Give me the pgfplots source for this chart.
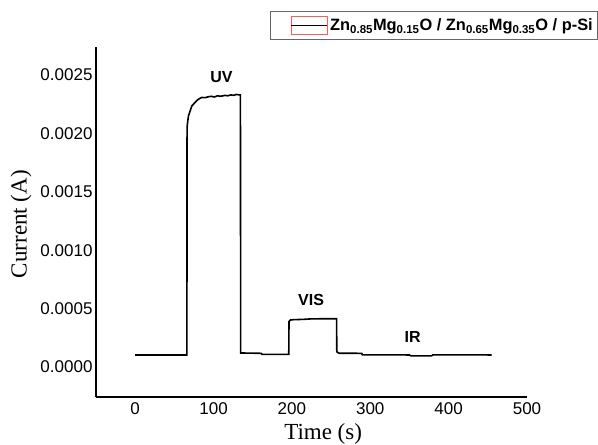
\documentclass[border=0pt]{standalone}
\usepackage{fontspec}
\setmainfont{Liberation Serif}
\newfontfamily\arial{Liberation Sans}
\usepackage{pgfplots}
\pgfplotsset{compat=1.18}
\begin{document}
\begin{tikzpicture}
\useasboundingbox (-96pt,-48pt) rectangle (502pt,397pt);
\begin{axis}[
  scale only axis, width=431pt, height=350pt,
  xmin=-50, xmax=500, ymin=-0.000257, ymax=0.00274,
  axis lines=left, axis line style={-, line width=1.4pt},
  xtick={0,100,...,500},
  ytick={0,0.0005,0.001,0.0015,0.002,0.0025},
  scaled y ticks=false,
  yticklabel style={/pgf/number format/fixed, /pgf/number format/fixed zerofill, /pgf/number format/precision=4},
  /pgf/number format/assume math mode=true,
  ticklabel style={font=\arial\fontsize{17}{18}\selectfont},
  major tick length=0pt,
  xticklabel style={yshift=-2pt},
  xlabel={Time (s)},
  ylabel={Current (A)},
  label style={font=\fontsize{23}{24}\selectfont},
  xlabel style={at={(axis description cs:0.527,-0.106)}, anchor=center},
  ylabel style={at={(axis description cs:-0.174,0.494)}, anchor=center},
  legend style={at={(axis description cs:0.4037,1.103)}, anchor=north west,
    draw=gray!80!black, line width=1.2pt, font=\arial\fontsize{16.4}{17}\selectfont\bfseries,
    inner xsep=3pt, inner ysep=4.5pt, row sep=0pt},
  legend image code/.code={
    \path (-2pt,0pt);
    \draw[red!65, line width=0.7pt] (15pt,-9pt) rectangle (51pt,9pt);
    \draw[black, line width=1.5pt] (15pt,0pt) -- (51pt,0pt);},
  clip=false,
]
\addplot[black, line width=1.6pt] coordinates {
(0,0.000103) (66,0.000103) (66.2,0.00205) (67,0.0021) (68,0.00215) (70,0.00219) (72.3,0.002235) (75,0.002255) (78.7,0.002282) (82,0.002298) (85,0.002308) (89,0.002306) (93.5,0.002314) (97,0.002318) (101,0.002312) (105,0.002322) (109,0.002318) (114.8,0.002326) (118,0.002322) (122,0.00233) (126,0.002326) (129,0.002334) (131.8,0.002331) (134.3,0.00233) (134.6,0.00012) (161,0.000117) (162,0.000108) (196,0.000108) (196.3,0.00039) (198,0.000402) (202,0.000405) (215,0.000408) (225,0.000412) (240,0.000413) (257,0.000413) (257.3,0.00013) (260,0.000118) (289,0.000117) (290,0.000104) (350,0.000103) (352,0.000095) (378,0.000095) (380,0.000104) (455,0.000103)
};
\addlegendentry{Zn\textsubscript{0.85}Mg\textsubscript{0.15}O / Zn\textsubscript{0.65}Mg\textsubscript{0.35}O / p-Si}
\node[font=\arial\fontsize{16}{17}\selectfont\bfseries] at (axis cs:110,0.00248) {UV};
\node[font=\arial\fontsize{16}{17}\selectfont\bfseries] at (axis cs:224.5,0.000574) {VIS};
\node[font=\arial\fontsize{16}{17}\selectfont\bfseries] at (axis cs:354,0.00026) {IR};
\end{axis}
\end{tikzpicture}
\end{document}
